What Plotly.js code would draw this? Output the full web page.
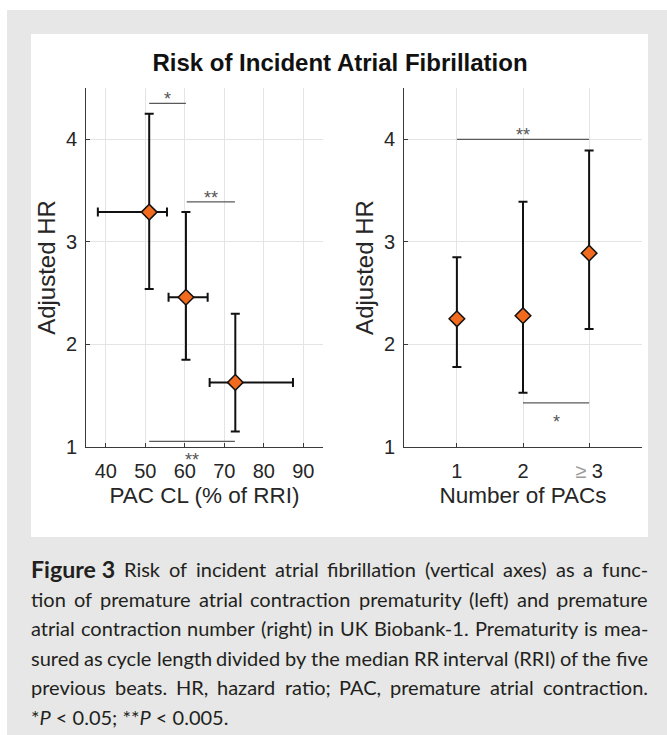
<!DOCTYPE html>
<html><head><meta charset="utf-8">
<script src="https://cdn.plot.ly/plotly-3.0.1.min.js"></script>
<style>html,body{margin:0;padding:0;background:#fff}</style>
</head><body><div id="chart" style="width:667px;height:735px"></div>
<script>
// ---------- Data: left panel (PAC prematurity) ----------
const pacCL      = [51.0, 60.3, 72.8];
const pacCLLow   = [38.0, 55.9, 66.3];
const pacCLHigh  = [55.5, 65.8, 87.4];
const hrLeft     = [3.29, 2.46, 1.63];
const hrLeftLow  = [2.54, 1.85, 1.15];
const hrLeftHigh = [4.25, 3.29, 2.30];
const leftXTicks = [40, 50, 60, 70, 80, 90];

// ---------- Data: right panel (number of PACs) ----------
const pacNumber       = [1, 2, 3];
const pacNumberLabels = ['1', '2', '<span style="color:#9a9a9a">≥</span> 3'];
const hrRight         = [2.25, 2.28, 2.89];
const hrRightLow      = [1.78, 1.53, 2.15];
const hrRightHigh     = [2.85, 3.39, 3.89];
const hrTicks         = [1, 2, 3, 4];

// ---------- Significance brackets ----------
const sigLeftX0    = [51.0, 60.5, 51.0];
const sigLeftX1    = [60.3, 72.7, 72.7];
const sigLeftY     = [4.35, 3.39, 1.055];
const sigLeftLabel = ['*', '**', '**'];
const sigLeftSide  = ['above', 'above', 'below'];
const sigRightX0    = [1, 2];
const sigRightX1    = [3, 3];
const sigRightY     = [4.0, 1.43];
const sigRightLabel = ['**', '*'];
const sigRightSide  = ['above', 'below'];

// ---------- Texts ----------
const chartTitle = 'Risk of Incident Atrial Fibrillation';
const leftXTitle = 'PAC CL (% of RRI)';
const rightXTitle = 'Number of PACs';
const yTitle = 'Adjusted HR';
const captionLead = 'Figure 3';
const captionLines = [
  'Risk of incident atrial fibrillation (vertical axes) as a func-',
  'tion of premature atrial contraction prematurity (left) and premature',
  'atrial contraction number (right) in UK Biobank-1. Prematurity is mea-',
  'sured as cycle length divided by the median RR interval (RRI) of the five',
  'previous beats. HR, hazard ratio; PAC, premature atrial contraction.'
];
const captionLast = '*<i>P</i> < 0.05; **<i>P</i> < 0.005.';

// ---------- Layout helpers ----------
const W = 667, H = 735;
const px = v => v / W;
const py = v => 1 - v / H;
const FONT = 'Liberation Sans, Arial, sans-serif';
const AXC = '#3a3a3a';
const TXT = '#262626';
const ORANGE = '#F26A1E';

function errArr(hi, v) { return hi.map((h, i) => h - v[i]); }
function errArrMinus(lo, v) { return lo.map((l, i) => v[i] - l); }

const ebStyle = {type: 'data', symmetric: false, color: '#111', thickness: 2, width: 4.5};

const traces = [];
function sigTrace(x0, x1, y, xa, ya) {
  const xs = [], ys = [];
  x0.forEach((v, i) => { xs.push(v, x1[i], null); ys.push(y[i], y[i], null); });
  return {x: xs, y: ys, xaxis: xa, yaxis: ya, mode: 'lines', line: {color: '#5a5a5a', width: 1.2}, hoverinfo: 'skip', cliponaxis: false};
}
traces.push(sigTrace(sigLeftX0, sigLeftX1, sigLeftY, 'x', 'y'));
traces.push(sigTrace(sigRightX0, sigRightX1, sigRightY, 'x2', 'y2'));

traces.push({
  x: pacCL, y: hrLeft, xaxis: 'x', yaxis: 'y', mode: 'markers', cliponaxis: false,
  error_x: Object.assign({}, ebStyle, {array: errArr(pacCLHigh, pacCL), arrayminus: errArrMinus(pacCLLow, pacCL)}),
  error_y: Object.assign({}, ebStyle, {array: errArr(hrLeftHigh, hrLeft), arrayminus: errArrMinus(hrLeftLow, hrLeft)}),
  marker: {symbol: 'diamond', size: 12, color: ORANGE, line: {color: '#111', width: 1.5}}
});
traces.push({
  x: pacNumber, y: hrRight, xaxis: 'x2', yaxis: 'y2', mode: 'markers', cliponaxis: false,
  error_y: Object.assign({}, ebStyle, {array: errArr(hrRightHigh, hrRight), arrayminus: errArrMinus(hrRightLow, hrRight)}),
  marker: {symbol: 'diamond', size: 12, color: ORANGE, line: {color: '#111', width: 1.5}}
});

const annotations = [];
function sigLabels(x0, x1, y, lab, side, xr, yr) {
  lab.forEach((t, i) => {
    annotations.push({
      x: (x0[i] + x1[i]) / 2, y: y[i], xref: xr, yref: yr, text: t, showarrow: false,
      xanchor: 'center', yanchor: 'middle', yshift: side[i] === 'above' ? 4 : -19,
      font: {family: FONT, size: 18, color: '#555'}
    });
  });
}
sigLabels(sigLeftX0, sigLeftX1, sigLeftY, sigLeftLabel, sigLeftSide, 'x', 'y');
sigLabels(sigRightX0, sigRightX1, sigRightY, sigRightLabel, sigRightSide, 'x2', 'y2');

// ---------- Caption (justified, word by word) ----------
const CAP_FONT = 'Lato';
const CAP_LEFT = 31, CAP_RIGHT = 648, CAP_TOP = 569, CAP_PITCH = 29.5;
const ctx = document.createElement('canvas').getContext('2d');
function measure(t, bold, size) { ctx.font = (bold ? 'bold ' : '') + size + 'px ' + CAP_FONT; return ctx.measureText(t).width; }
function lineWords(li, size) {
  const words = captionLines[li].split(' ').map(t => ({t: t, b: false, s: size}));
  if (li === 0) words.unshift({t: captionLead, b: true, s: size * 1.16});
  return words;
}
// largest body size (<= 21px) that lets every line fit with a normal minimum word gap
let CAP_SIZE = 21;
for (let s = 21; s >= 16; s -= 0.25) {
  const ok = captionLines.every((l, li) => {
    const ws = lineWords(li, s);
    const tot = ws.reduce((a, wd) => a + measure(wd.t, wd.b, wd.s), 0);
    return tot + (ws.length - 1) * s * 0.22 <= CAP_RIGHT - CAP_LEFT;
  });
  CAP_SIZE = s;
  if (ok) break;
}
captionLines.forEach((line, li) => {
  const words = lineWords(li, CAP_SIZE);
  const widths = words.map(wd => measure(wd.t, wd.b, wd.s));
  const total = widths.reduce((a, b) => a + b, 0);
  const gap = (CAP_RIGHT - CAP_LEFT - total) / (words.length - 1);
  let xpos = CAP_LEFT;
  words.forEach((wd, i) => {
    annotations.push({
      x: px(xpos), y: py(CAP_TOP + li * CAP_PITCH), xref: 'paper', yref: 'paper',
      text: wd.b ? '<b>' + wd.t + '</b>' : wd.t, showarrow: false, xanchor: 'left', yanchor: 'middle',
      borderpad: 0, borderwidth: 0,
      font: {family: CAP_FONT, size: wd.s, color: '#231f20'}
    });
    xpos += widths[i] + gap;
  });
});
annotations.push({
  x: px(CAP_LEFT), y: py(CAP_TOP + 5 * CAP_PITCH), xref: 'paper', yref: 'paper',
  text: captionLast, showarrow: false, xanchor: 'left', yanchor: 'middle', borderpad: 0, borderwidth: 0,
  font: {family: CAP_FONT, size: CAP_SIZE, color: '#231f20'}
});

const shapes = [
  {type: 'rect', xref: 'paper', yref: 'paper', x0: px(7), x1: 1, y0: 0, y1: py(10), fillcolor: '#e6e7e6', line: {width: 0}, layer: 'below'},
  {type: 'rect', xref: 'paper', yref: 'paper', x0: px(31), x1: px(648), y0: py(537), y1: py(34), fillcolor: '#ffffff', line: {width: 0}, layer: 'below'}
];

function xAxis(domain, range, tickvals, ticktext, title, anchor) {
  const a = {
    domain: domain, range: range, tickvals: tickvals, anchor: anchor,
    showgrid: true, gridcolor: '#e4e4e4', gridwidth: 1, zeroline: false,
    showline: true, linecolor: AXC, linewidth: 1, mirror: false,
    ticks: 'inside', ticklen: 4, tickcolor: AXC, ticklabelstandoff: 6,
    tickfont: {family: FONT, size: 20, color: TXT},
    title: {text: title, font: {family: FONT, size: 22.5, color: TXT}, standoff: 6},
    fixedrange: true
  };
  if (ticktext) a.ticktext = ticktext;
  return a;
}
function yAxis(anchor) {
  return {
    domain: [py(447), py(88)], range: [1, 4.5], tickvals: hrTicks, anchor: anchor,
    showgrid: true, gridcolor: '#e4e4e4', gridwidth: 1, zeroline: false,
    showline: true, linecolor: AXC, linewidth: 1, mirror: false,
    ticks: 'inside', ticklen: 4, tickcolor: AXC, ticklabelstandoff: 4,
    tickfont: {family: FONT, size: 20, color: TXT},
    title: {text: yTitle, font: {family: FONT, size: 24, color: TXT}, standoff: 3},
    fixedrange: true
  };
}

const layout = {
  width: W, height: H,
  margin: {l: 0, r: 0, t: 0, b: 0, pad: 0},
  paper_bgcolor: '#ffffff', plot_bgcolor: 'rgba(0,0,0,0)',
  showlegend: false, hovermode: false,
  title: {text: chartTitle, x: px(340), xref: 'paper', xanchor: 'center', y: py(63), yref: 'paper', yanchor: 'middle',
          font: {family: FONT, size: 24, weight: 'bold', color: '#111'}},
  xaxis: xAxis([px(86), px(323)], [35, 95], leftXTicks, null, leftXTitle, 'y'),
  yaxis: yAxis('x'),
  xaxis2: xAxis([px(404), px(642)], [0.2, 3.8], pacNumber, pacNumberLabels, rightXTitle, 'y2'),
  yaxis2: yAxis('x2'),
  shapes: shapes,
  annotations: annotations
};

Plotly.newPlot('chart', traces, layout, {displayModeBar: false, staticPlot: true});
</script>
</body></html>
